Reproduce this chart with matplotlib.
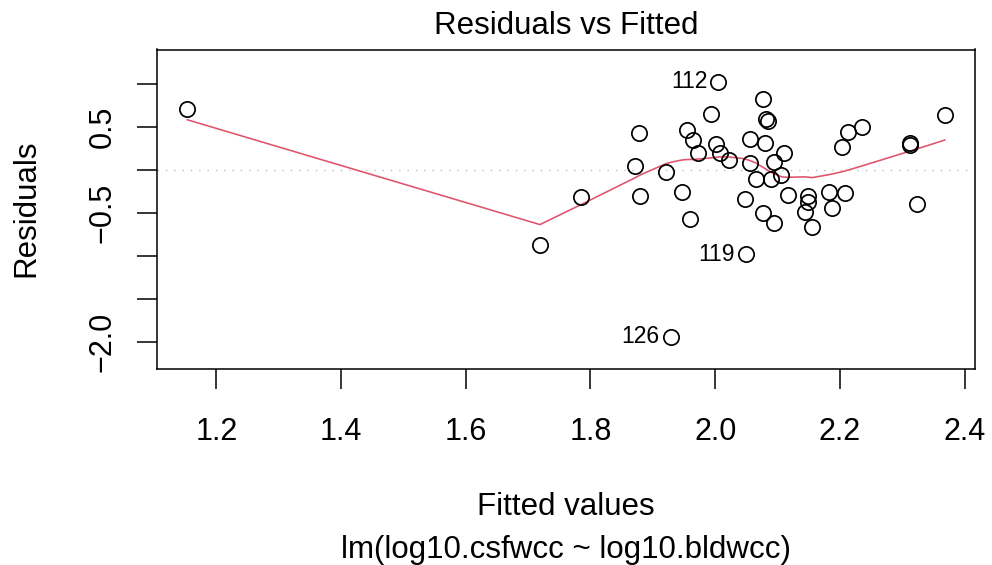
import numpy as np
import matplotlib
matplotlib.use("Agg")
import matplotlib.pyplot as plt

plt.rcParams['font.family'] = ['Liberation Sans', 'DejaVu Sans']

fitted = [1.1535, 1.719, 1.785, 2.005, 2.077, 1.994, 2.081, 2.085, 1.878, 1.954,
          1.965, 2.055, 2.080, 2.002, 2.007, 1.973, 2.022, 2.056, 2.094, 2.110,
          1.872, 1.921, 2.065, 2.089, 2.106, 1.879, 1.946, 2.047, 2.077, 1.960,
          2.095, 2.116, 2.149, 2.149, 2.144, 2.182, 2.208, 2.188, 2.156, 2.323,
          2.049, 1.929, 2.368, 2.235, 2.213, 2.204, 2.313, 2.313]
resid = [0.709, -0.872, -0.308, 1.027, 0.822, 0.655, 0.599, 0.576, 0.427, 0.462,
         0.355, 0.358, 0.317, 0.308, 0.201, 0.194, 0.122, 0.087, 0.097, 0.194,
         0.050, -0.023, -0.099, -0.105, -0.058, -0.299, -0.250, -0.331, -0.497, -0.570,
         -0.620, -0.291, -0.299, -0.369, -0.485, -0.259, -0.264, -0.442, -0.666, -0.390,
         -0.977, -1.938, 0.640, 0.506, 0.442, 0.273, 0.317, 0.291]
obs_names = {3: "112", 40: "119", 41: "126"}

xticks = [1.2, 1.4, 1.6, 1.8, 2.0, 2.2, 2.4]
yticks = [1.0, 0.5, 0.0, -0.5, -1.0, -1.5, -2.0]
ytick_labels = ["", "0.5", "", "\u22120.5", "", "", "\u22122.0"]


def lowess(x, y, f=2/3, iters=3):
    x = np.asarray(x, float)
    y = np.asarray(y, float)
    o = np.argsort(x, kind="stable")
    x = x[o]
    y = y[o]
    n = len(x)
    ns = max(min(int(f * n + 1e-7), n), 2)
    rw = np.ones(n)
    ys = np.zeros(n)
    for it in range(iters + 1):
        nleft, nright = 0, ns - 1
        for i in range(n):
            while nright < n - 1 and x[i] - x[nleft] > x[nright + 1] - x[i]:
                nleft += 1
                nright += 1
            h = max(x[i] - x[nleft], x[nright] - x[i])
            r = np.abs(x - x[i])
            w = np.zeros(n)
            if h > 0:
                near = r <= 0.999 * h
                w[near] = (1 - (r[near] / h) ** 3) ** 3
            w[r <= 0.001 * h] = 1
            w *= rw
            if w.sum() <= 0:
                ys[i] = y[i]
                continue
            w /= w.sum()
            if h > 0:
                a = np.sum(w * x)
                b = x[i] - a
                c = np.sum(w * (x - a) ** 2)
                if np.sqrt(c) > 0.001 * (x[-1] - x[0]):
                    w = w * (b / c * (x - a) + 1)
            ys[i] = np.sum(w * y)
        if it == iters:
            break
        res = y - ys
        cmad = 6 * np.median(np.abs(res))
        if cmad < 1e-7 * np.mean(np.abs(y)):
            break
        u = np.abs(res) / cmad
        rw = np.where(u <= 0.001, 1.0, np.where(u <= 0.999, (1 - u ** 2) ** 2, 0.0))
    return x, ys


W, H = 992, 565
fig = plt.figure(figsize=(W / 100, H / 100), dpi=100)
ax = fig.add_axes([157 / W, 1 - 369 / H, 818 / W, 319.5 / H])

fx = np.array(fitted)
ry = np.array(resid)

xr = fx.max() - fx.min()
ax.set_xlim(fx.min() - 0.04 * xr, fx.max() + 0.04 * xr)
yr = ry.max() - ry.min()
ylo, yhi = ry.min() - 0.08 * yr, ry.max() + 0.08 * yr
ax.set_ylim(ylo - 0.04 * (yhi - ylo), yhi + 0.04 * (yhi - ylo))

ax.axhline(0, color="#BEBEBE", lw=1, ls=(0, (1, 5)), zorder=1)
ax.plot(fx, ry, "o", mfc="none", mec="black", ms=11, mew=1.25, zorder=3)

sx, sy = lowess(fx, ry)
ax.plot(sx, sy, color="#DF536B", lw=1.15, zorder=2)

# label the three largest residuals, text to the left of the point
for i, name in obs_names.items():
    ax.annotate(name, (fx[i], ry[i]), xytext=(-8, 0), textcoords="offset points",
                ha="right", va="center", fontsize=16.5)

ax.set_xticks(xticks)
ax.set_xticklabels([f"{t:.1f}" for t in xticks])
ax.set_yticks(yticks)
ax.set_yticklabels(ytick_labels, rotation=90, va="center")
ax.tick_params(axis="x", length=14.4, width=1.1, pad=20, labelsize=22)
ax.tick_params(axis="y", length=14.4, width=1.1, pad=14, labelsize=22)
for s in ax.spines.values():
    s.set_linewidth(1.1)

fig.text(566 / W, 1 - 34 / H, "Residuals vs Fitted", ha="center", va="baseline", fontsize=22.5)
fig.text(566 / W, 1 - 515 / H, "Fitted values", ha="center", va="baseline", fontsize=22.5)
fig.text(566 / W, 1 - 558 / H, "lm(log10.csfwcc ~ log10.bldwcc)", ha="center", va="baseline", fontsize=22.5)
fig.text(34 / W, 1 - 208 / H, "Residuals", ha="center", va="baseline", rotation=90,
         rotation_mode="anchor", fontsize=22.5)

fig.savefig("out.png", dpi=100)
